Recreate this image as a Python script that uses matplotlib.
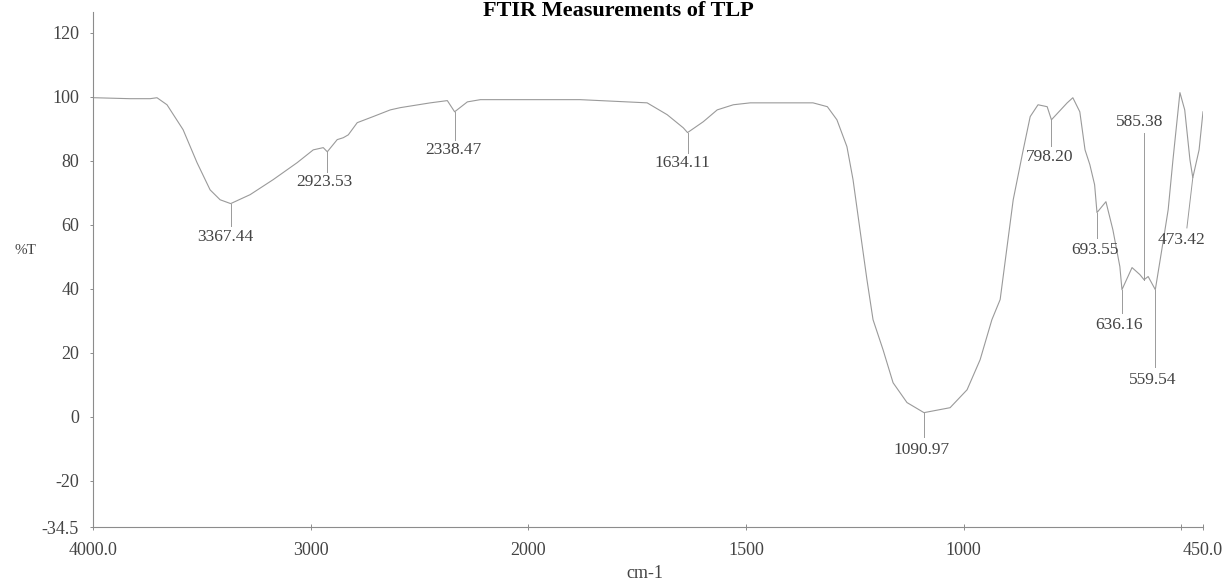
"""FTIR spectrum of TLP, redrawn from the scanned instrument printout."""
import numpy as np
import matplotlib
matplotlib.use("Agg")
import matplotlib.pyplot as plt

plt.rcParams["font.family"] = ["Liberation Serif", "DejaVu Serif"]

# spectrum: wavenumber (cm-1) vs %T
wavenumber = [
    3995, 3830, 3738, 3706, 3660, 3586, 3522, 3462, 3416, 3367.44,
    3278, 3172, 3062, 2988, 2942, 2923.53, 2878, 2850, 2827, 2786,
    2713, 2634, 2588, 2450, 2372, 2338.47, 2280, 2220, 2000,
    1881, 1727, 1681, 1644, 1634.11, 1598, 1566, 1529, 1490, 1346,
    1313, 1291, 1268, 1254, 1238, 1222, 1208, 1185, 1162, 1130,
    1090.97, 1031, 992, 962, 935, 916, 886, 863, 847, 829,
    808, 798.20, 762, 749, 733, 721, 710, 699, 693.55, 673,
    657, 641, 636.16, 613, 595, 585.38, 576, 559.54, 542, 530,
    519, 503, 492, 480, 473.42, 459, 450,
]
transmittance = [
    99.7, 99.4, 99.4, 99.7, 97.5, 89.7, 79.4, 70.9, 67.8, 66.6,
    69.4, 74.1, 79.4, 83.4, 84.1, 82.8, 86.6, 87.2, 88.1, 91.9,
    93.8, 95.9, 96.6, 98.1, 98.8, 95.3, 98.4, 99.1, 99.1,
    99.1, 98.1, 94.4, 90.3, 88.8, 92.2, 95.9, 97.5, 98.1, 98.1,
    96.9, 92.8, 84.4, 74.1, 58.4, 42.8, 30.3, 20.9, 10.6, 4.4,
    1.25, 2.8, 8.4, 17.8, 30.3, 36.6, 67.8, 83.4, 93.8, 97.5,
    96.9, 92.8, 98.1, 99.7, 95.3, 83.4, 78.8, 72.5, 63.8, 67.2,
    58.4, 46.9, 39.7, 46.6, 44.4, 42.8, 43.8, 39.7, 54.4, 64.7,
    80.3, 101.3, 95.9, 80.3, 74.7, 83.4, 95.3,
]

# labelled peaks: position, %T at the peak, label text y, leader end y
peak_wn = [3367.44, 2923.53, 2338.47, 1634.11, 1090.97, 798.20,
           693.55, 636.16, 585.38, 559.54, 473.42]
peak_t = [66.6, 82.8, 95.3, 88.8, 1.25, 92.8, 63.8, 39.7, 42.8, 39.7, 74.7]
label_t = [56.3, 73.4, 83.4, 79.4, -10.3, 81.25, 52.2, 28.75, 92.2, 11.6, 55.3]
leader_t = [59.7, 76.6, 86.6, 82.5, -6.25, 84.7, 55.9, 32.5, 88.8, 15.6, 59.0]
label_wn = [3390, 2935, 2345, 1645, 1097, 802, 699, 643, 595, 566, 500]
leader_wn = [3367.44, 2923.53, 2338.47, 1634.11, 1090.97, 798.20,
             693.55, 636.16, 585.38, 559.54, 487]

xticks = [4000, 3000, 2000, 1500, 1000, 500, 450]
xticklabels = ["4000.0", "3000", "2000", "1500", "1000", "", "450.0"]
yticks = [120, 100, 80, 60, 40, 20, 0, -20, -34.5]
yticklabels = ["120", "100", "80", "60", "40", "20", "0", "-20", "-34.5"]


# the printout uses half scale above 2000 cm-1
def fwd(x):
    x = np.asarray(x, dtype=float)
    return np.where(x >= 2000, 2000 + (x - 2000) * 0.5, x)


def inv(y):
    y = np.asarray(y, dtype=float)
    return np.where(y >= 2000, 2000 + (y - 2000) * 2.0, y)


txt = "#444444"
line = "#9a9a9a"

fig = plt.figure(figsize=(12.28, 5.82), dpi=100)
ax = fig.add_axes([93 / 1228, 55 / 582, 1110 / 1228, 515 / 582])
ax.set_xscale("function", functions=(fwd, inv))
ax.set_xlim(4000, 450)
ax.set_ylim(-34.5, 126.5)

ax.plot(wavenumber, transmittance, color=line, lw=0.8)

for pw, pt, lw_, lt, tw, tt in zip(peak_wn, peak_t, leader_wn, leader_t,
                                     label_wn, label_t):
    ax.plot([pw, lw_], [pt, lt], color=line, lw=0.7)
    ax.text(tw, tt, f"{pw:.2f}", ha="center", va="center",
            fontsize=12.5, color=txt)

for s in ("top", "right"):
    ax.spines[s].set_visible(False)
for s in ("left", "bottom"):
    ax.spines[s].set_color("#8c8c8c")
    ax.spines[s].set_linewidth(0.8)

ax.set_xticks(xticks)
ax.set_xticklabels(xticklabels)
ax.xaxis.set_minor_locator(matplotlib.ticker.NullLocator())
ax.set_yticks(yticks)
ax.set_yticklabels(yticklabels)
ax.tick_params(axis="x", direction="inout", length=5, width=0.7,
               color="#8c8c8c", labelsize=13, labelcolor=txt, pad=8)
ax.tick_params(axis="y", direction="out", length=2, width=0.7,
               color="#8c8c8c", labelsize=13, labelcolor=txt, pad=8)

fig.text(25 / 1228, 1 - 250 / 582, "%T", fontsize=11, color=txt,
         ha="center", va="center")
fig.text(645 / 1228, 1 - 574 / 582, "cm-1", fontsize=13, color=txt,
         ha="center", va="center")
fig.text(618 / 1228, 1 - 1 / 582, "FTIR Measurements of TLP",
         fontsize=16, fontweight="bold", ha="center", va="top")

fig.savefig("out.png", dpi=100)
